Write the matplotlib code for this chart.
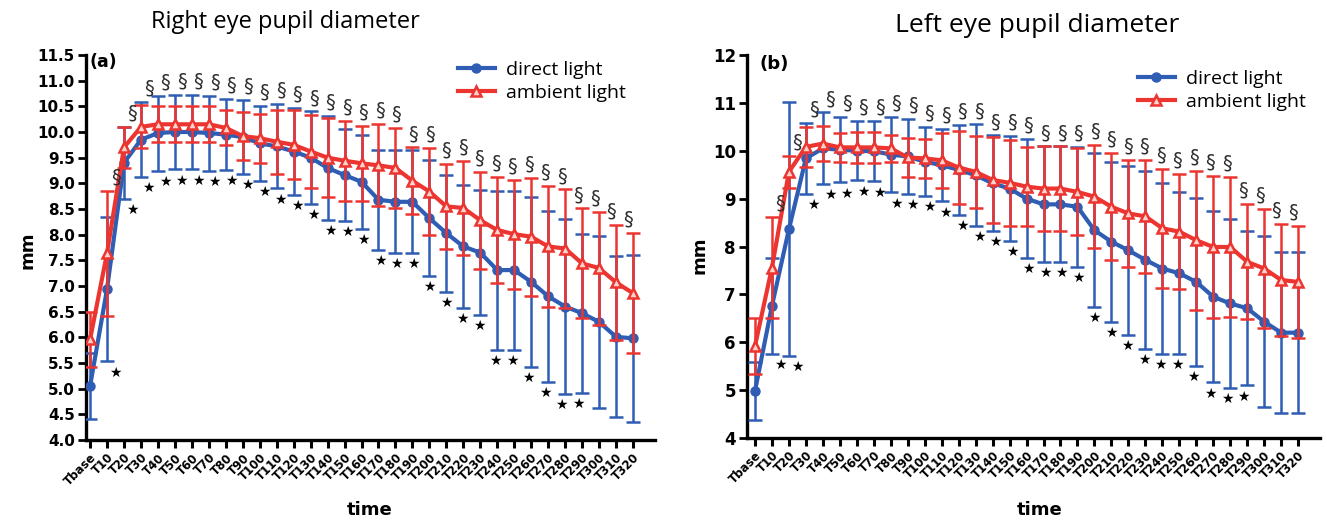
import numpy as np
import matplotlib.pyplot as plt

W, H = 1327, 521

times = ["Tbase"] + ["T%d" % t for t in range(10, 330, 10)]

# right eye (a)
right_direct = [5.05, 6.94, 9.40, 9.85, 9.98, 10.0, 10.0, 9.98, 9.95, 9.90, 9.78,
                9.72, 9.62, 9.50, 9.30, 9.16, 9.03, 8.68, 8.64, 8.64, 8.32, 8.03,
                7.77, 7.65, 7.31, 7.31, 7.08, 6.80, 6.60, 6.47, 6.30, 6.01, 5.98]
right_direct_sd = [0.64, 1.41, 0.70, 0.73, 0.73, 0.73, 0.73, 0.73, 0.69, 0.72, 0.73,
                   0.82, 0.85, 0.90, 1.02, 0.90, 0.92, 0.97, 1.00, 1.00, 1.13, 1.14,
                   1.20, 1.22, 1.55, 1.55, 1.65, 1.67, 1.70, 1.55, 1.67, 1.57, 1.62]
right_ambient = [5.96, 7.64, 9.70, 10.10, 10.15, 10.15, 10.15, 10.15, 10.08, 9.92, 9.88,
                 9.81, 9.75, 9.62, 9.50, 9.44, 9.39, 9.35, 9.30, 9.05, 8.84, 8.55,
                 8.52, 8.28, 8.09, 8.01, 7.96, 7.77, 7.73, 7.44, 7.35, 7.07, 6.86]
right_ambient_sd = [0.53, 1.22, 0.40, 0.42, 0.35, 0.35, 0.35, 0.35, 0.34, 0.46, 0.48,
                    0.62, 0.67, 0.72, 0.77, 0.78, 0.73, 0.80, 0.78, 0.65, 0.85, 0.83,
                    0.92, 0.94, 1.04, 1.06, 1.15, 1.18, 1.15, 1.07, 1.10, 1.12, 1.17]

# left eye (b)
left_direct = [4.98, 6.76, 8.36, 9.84, 10.05, 10.02, 10.0, 9.99, 9.92, 9.88, 9.77,
               9.70, 9.60, 9.49, 9.32, 9.21, 9.00, 8.88, 8.88, 8.83, 8.34, 8.10,
               7.92, 7.72, 7.54, 7.44, 7.26, 6.95, 6.81, 6.71, 6.43, 6.20, 6.20]
left_direct_sd = [0.60, 1.00, 2.65, 0.75, 0.75, 0.68, 0.62, 0.63, 0.79, 0.79, 0.72,
                  0.76, 0.94, 1.06, 1.00, 1.10, 1.24, 1.21, 1.21, 1.25, 1.61, 1.67,
                  1.76, 1.86, 1.78, 1.69, 1.76, 1.79, 1.77, 1.61, 1.79, 1.68, 1.68]
left_ambient = [5.92, 7.56, 9.56, 10.08, 10.15, 10.07, 10.07, 10.07, 10.05, 9.86, 9.84,
                9.80, 9.65, 9.56, 9.39, 9.33, 9.25, 9.21, 9.21, 9.14, 9.04, 8.83,
                8.69, 8.63, 8.38, 8.31, 8.13, 7.99, 7.99, 7.68, 7.54, 7.30, 7.26]
left_ambient_sd = [0.58, 1.05, 0.33, 0.42, 0.37, 0.31, 0.33, 0.33, 0.28, 0.40, 0.40,
                   0.57, 0.77, 0.75, 0.89, 0.90, 0.83, 0.88, 0.88, 0.91, 1.08, 1.12,
                   1.12, 1.18, 1.24, 1.20, 1.45, 1.48, 1.46, 1.20, 1.24, 1.17, 1.17]

# significance markers (index into times)
section_idx = list(range(1, 33))   # T10..T320
star_idx = list(range(1, 30))      # T10..T290

BLUE = "#2f5db3"
RED = "#ec3530"
TICKFONT = "DejaVu Sans"
SOFTFONT = "Open Sans"

fig = plt.figure(figsize=(W / 100, H / 100), dpi=100)


def px_axes(x0, y0, x1, y1):
    return fig.add_axes([x0 / W, 1 - y1 / H, (x1 - x0) / W, (y1 - y0) / H])


def draw_panel(ax, d, dsd, a, asd, yticks, fmt, ylim, xlim, ytick_size, leg_xy):
    x = np.arange(len(times))
    eb_d = ax.errorbar(x, d, yerr=dsd, color=BLUE, lw=3, elinewidth=1.8, capsize=5,
                       capthick=1.8, marker="o", ms=6.5, zorder=3)
    eb_a = ax.errorbar(x, a, yerr=asd, color=RED, lw=3, elinewidth=1.8, capsize=5,
                       capthick=1.8, marker="^", ms=7.5, mfc="#fbd2cc", mec=RED,
                       mew=1.8, zorder=4)

    n = len(section_idx)
    for i in section_idx:
        up_d = d[i] + dsd[i]
        up_a = a[i] + asd[i]
        top = up_a if up_d - up_a > 0.5 else max(up_d, up_a)
        dx = 0.5 - 0.8 * (i - 1) / (n - 1)
        ax.annotate("§", (i + dx, top), xytext=(0, 10), textcoords="offset points",
                    ha="center", va="center", fontsize=14, color="#2e2e2e",
                    family="DejaVu Sans", zorder=5)
    for i in star_idx:
        low = d[i] - dsd[i]
        dx = 0.5 - 0.8 * (i - 1) / (n - 1)
        ax.annotate("★", (i + dx, low), xytext=(0, -8), textcoords="offset points",
                    ha="center", va="center", fontsize=10, color="black",
                    family="DejaVu Sans", zorder=5)

    ax.set_xlim(*xlim)
    ax.set_ylim(*ylim)
    ax.set_xticks(x)
    ax.set_xticklabels(times, rotation=45, ha="right", rotation_mode="anchor",
                       fontsize=8.5, fontweight="bold", family=TICKFONT)
    ax.set_yticks(yticks)
    ax.set_yticklabels([fmt % v for v in yticks], fontsize=ytick_size,
                       fontweight="bold", family=TICKFONT)
    ax.tick_params(axis="x", direction="out", length=6, width=2.2, pad=2)
    ax.tick_params(axis="y", direction="out", length=6, width=2, pad=2)
    for s in ["top", "right"]:
        ax.spines[s].set_visible(False)
    for s in ["left", "bottom"]:
        ax.spines[s].set_linewidth(2.4)
    ax.set_facecolor("none")

    ax.legend([eb_d.lines[0], eb_a.lines[0]], ["direct light", "ambient light"],
              loc="upper left", bbox_to_anchor=(leg_xy[0] / W, 1 - leg_xy[1] / H),
              bbox_transform=fig.transFigure, frameon=False,
              prop={"family": SOFTFONT, "size": 14}, handlelength=1.9,
              handletextpad=0.6, labelspacing=0.25, borderaxespad=0)


axa = px_axes(86, 55, 655, 440)
draw_panel(axa, right_direct, right_direct_sd, right_ambient, right_ambient_sd,
           np.arange(4.0, 11.51, 0.5), "%.1f", (4.0, 11.5), (-0.24, 33.3), 11,
           (450, 53))

axb = px_axes(747, 55, 1320, 438)
draw_panel(axb, left_direct, left_direct_sd, left_ambient, left_ambient_sd,
           np.arange(4, 13, 1), "%d", (4, 12), (-0.47, 33.29), 12, (1130, 62))

fig.text(285 / W, 1 - 22 / H, "Right eye pupil diameter", ha="center", va="center",
         fontsize=17, family=SOFTFONT)
fig.text(1037 / W, 1 - 25 / H, "Left eye pupil diameter", ha="center", va="center",
         fontsize=19, family=SOFTFONT)
fig.text(103 / W, 1 - 62 / H, "(a)", ha="center", va="center", fontsize=12.5,
         fontweight="bold", family=TICKFONT)
fig.text(774 / W, 1 - 64 / H, "(b)", ha="center", va="center", fontsize=13,
         fontweight="bold", family=TICKFONT)
fig.text(28 / W, 1 - 250 / H, "mm", rotation=90, ha="center", va="center",
         fontsize=13, fontweight="bold", family=TICKFONT)
fig.text(700 / W, 1 - 255 / H, "mm", rotation=90, ha="center", va="center",
         fontsize=13, fontweight="bold", family=TICKFONT)
fig.text(370 / W, 1 - 510 / H, "time", ha="center", va="center",
         fontsize=13, fontweight="bold", family=TICKFONT)
fig.text(1040 / W, 1 - 510 / H, "time", ha="center", va="center",
         fontsize=13, fontweight="bold", family=TICKFONT)

fig.savefig("out.png", dpi=100)
